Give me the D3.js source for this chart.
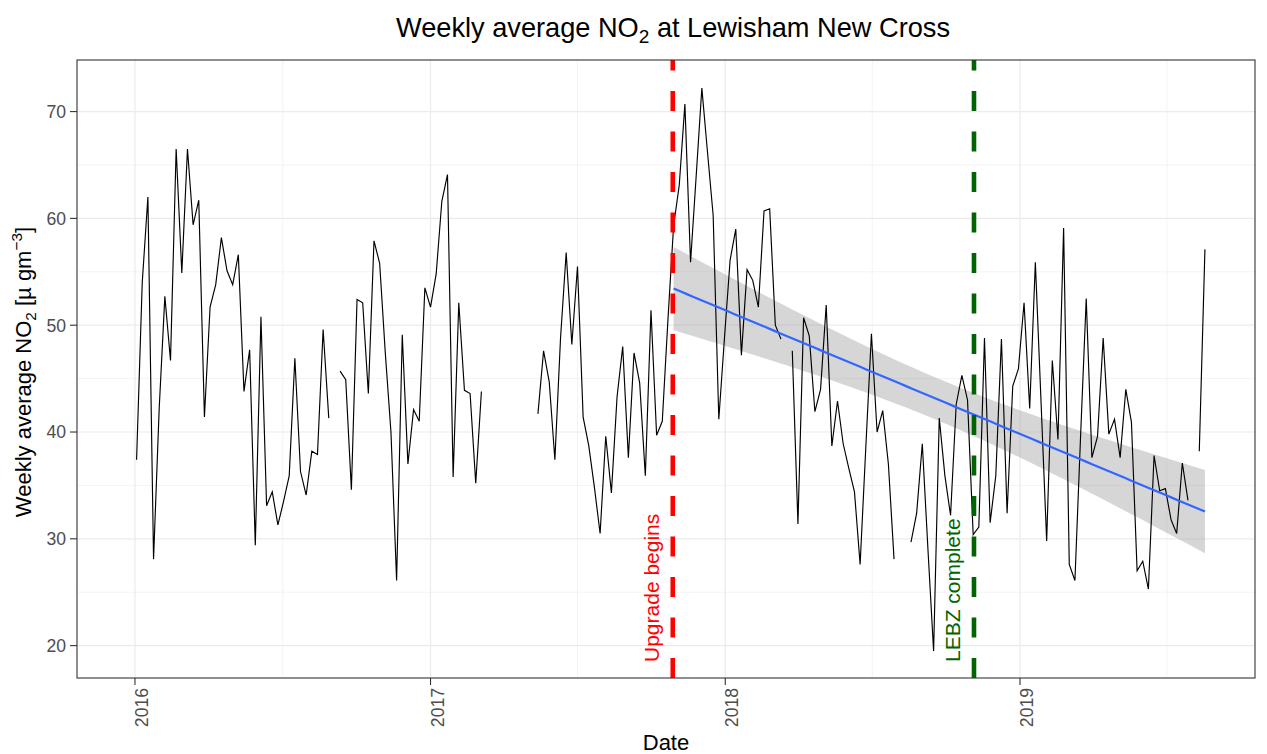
<!DOCTYPE html>
<html>
<head>
<meta charset="utf-8">
<script src="https://cdn.jsdelivr.net/npm/d3@7/dist/d3.min.js"></script>
<style>
  body { margin: 0; background: #fff; }
  text { font-family: "Liberation Sans", Arial, sans-serif; }
</style>
</head>
<body>
<div id="chart"></div>
<script>
// weekly average NO2, one value per week starting at firstWeek (null = no data)
var firstWeek = "2016-01-03";
var no2_2016 = [37.4, 54.0, 62.0, 28.1, 42.2, 52.7, 46.7, 66.5, 54.9, 66.5,
  59.4, 61.7, 41.4, 51.7, 53.8, 58.2, 55.1, 53.8, 56.6, 43.8,
  47.7, 29.4, 50.8, 33.1, 34.4, 31.3, 33.5, 35.9, 46.9, 36.3,
  34.1, 38.2, 37.9, 49.6, 41.3, null, 45.7, 44.9, 34.6, 52.4,
  52.1, 43.6, 57.9, 55.8, 47.4, 40.0, 26.1, 49.1, 37.0, 42.1,
  41.0, 53.5];
var no2_2017 = [51.7, 54.8, 61.6, 64.1, 35.8, 52.1, 43.9, 43.6, 35.2, 43.8,
  null, null, null, null, null, null, null, null, null,
  41.7, 47.6, 44.7, 37.4, 48.8, 56.8, 48.2, 55.5, 41.4, 38.7,
  34.8, 30.5, 39.6, 34.3, 43.3, 48.0, 37.6, 47.4, 44.6, 35.9,
  51.4, 39.7, 41.0, 50.5, 59.3, 63.1, 70.7, 55.9, 64.0, 72.2,
  66.2, 60.3, 41.2, 48.8];
var no2_2018 = [56.1, 59.0, 47.2, 55.2, 54.2, 51.7, 60.7, 60.9, 50.0, 48.7,
  null, 47.6, 31.4, 50.7, 49.0, 41.9, 44.0, 51.9, 38.7, 42.9,
  38.9, 36.6, 34.4, 27.6, 38.5, 49.2, 40.0, 42.0, 37.0, 28.1,
  null, null, 29.7, 32.4, 38.9, 29.0, 19.5, 41.3, 35.9, 32.2,
  42.6, 45.3, 43.0, 30.4, 31.1, 48.8, 31.5, 35.9, 48.7, 32.4,
  44.3, 45.9];
var no2_2019 = [52.1, 42.2, 55.9, 42.9, 29.8, 46.7, 39.3, 59.1, 27.6, 26.1,
  39.6, 52.5, 37.6, 39.6, 48.8, 39.8, 41.2, 37.6, 44.0, 40.9,
  27.0, 27.9, 25.3, 37.8, 34.5, 34.7, 31.8, 30.5, 37.1, 33.6,
  null, 38.2, 57.1];

var eventDates = ["2017-10-28", "2018-11-05"];
var eventLabels = ["Upgrade begins", "LEBZ complete"];
var yTicks = [20, 30, 40, 50, 60, 70];
var yMinorTicks = [25, 35, 45, 55, 65];
var xTickYears = [2016, 2017, 2018, 2019];

// styles
var eventColors = ["#FF0000", "#006400"];
var gridColor = "#EBEBEB";

var width = 1267, height = 754;
var panel = {left: 77, right: 1255, top: 60, bottom: 678};

var parse = d3.utcParse("%Y-%m-%d");
var start = parse(firstWeek);
var values = no2_2016.concat(no2_2017, no2_2018, no2_2019);
var data = values.map(function(v, i) {
  return {date: d3.utcDay.offset(start, 7 * i), v: v};
});

var svg = d3.select("#chart").append("svg")
  .attr("width", width)
  .attr("height", height);

var x = d3.scaleUtc()
  .domain([new Date(Date.UTC(2015, 9, 21, 5)), new Date(Date.UTC(2019, 9, 19))])
  .range([panel.left, panel.right]);
var y = d3.scaleLinear()
  .domain([16.97, 74.83])
  .range([panel.bottom, panel.top]);

var yearDates = xTickYears.map(function(yr) { return new Date(Date.UTC(yr, 0, 1)); });
var midDates = xTickYears.map(function(yr) { return new Date(Date.UTC(yr, 6, 2)); });

// grid
var grid = svg.append("g");
grid.selectAll(".ymin").data(yMinorTicks).enter().append("line")
  .attr("x1", panel.left).attr("x2", panel.right)
  .attr("y1", d => y(d)).attr("y2", d => y(d))
  .style("stroke", gridColor).style("stroke-width", 0.6);
grid.selectAll(".xmin").data(midDates).enter().append("line")
  .attr("y1", panel.top).attr("y2", panel.bottom)
  .attr("x1", d => x(d)).attr("x2", d => x(d))
  .style("stroke", gridColor).style("stroke-width", 0.6);
grid.selectAll(".ymaj").data(yTicks).enter().append("line")
  .attr("x1", panel.left).attr("x2", panel.right)
  .attr("y1", d => y(d)).attr("y2", d => y(d))
  .style("stroke", gridColor).style("stroke-width", 1.2);
grid.selectAll(".xmaj").data(yearDates).enter().append("line")
  .attr("y1", panel.top).attr("y2", panel.bottom)
  .attr("x1", d => x(d)).attr("x2", d => x(d))
  .style("stroke", gridColor).style("stroke-width", 1.2);

// linear fit after the upgrade starts
var t0 = parse(eventDates[0]);
var fitPts = data.filter(d => d.v != null && d.date >= t0)
  .map(d => ({t: (d.date - start) / 864e5, v: d.v, date: d.date}));
var n = fitPts.length;
var tbar = d3.mean(fitPts, d => d.t), vbar = d3.mean(fitPts, d => d.v);
var sxx = d3.sum(fitPts, d => (d.t - tbar) * (d.t - tbar));
var sxy = d3.sum(fitPts, d => (d.t - tbar) * (d.v - vbar));
var slope = sxy / sxx, icpt = vbar - slope * tbar;
var rss = d3.sum(fitPts, d => Math.pow(d.v - (icpt + slope * d.t), 2));
var s = Math.sqrt(rss / (n - 2));
var tq = 1.99;
var tFirst = fitPts[0].t, tLast = fitPts[n - 1].t;
var band = d3.range(0, 81).map(function(i) {
  var t = tFirst + (tLast - tFirst) * i / 80;
  var f = icpt + slope * t;
  var se = s * Math.sqrt(1 / n + (t - tbar) * (t - tbar) / sxx);
  return {date: start.getTime() + t * 864e5, f: f, lo: f - tq * se, hi: f + tq * se};
});

svg.append("path")
  .datum(band)
  .attr("d", d3.area().x(d => x(d.date)).y0(d => y(d.lo)).y1(d => y(d.hi)))
  .style("fill", "#999999")
  .style("opacity", 0.4);

// weekly series
svg.append("path")
  .datum(data)
  .attr("d", d3.line().defined(d => d.v != null).x(d => x(d.date)).y(d => y(d.v)))
  .style("fill", "none")
  .style("stroke", "#000")
  .style("stroke-width", 1.15);

svg.append("path")
  .datum(band)
  .attr("d", d3.line().x(d => x(d.date)).y(d => y(d.f)))
  .style("fill", "none")
  .style("stroke", "#3366FF")
  .style("stroke-width", 2.2);

// event lines + labels
eventDates.forEach(function(ds, i) {
  var ex = x(parse(ds));
  svg.append("line")
    .attr("x1", ex).attr("x2", ex)
    .attr("y1", panel.bottom).attr("y2", panel.top)
    .style("stroke", eventColors[i])
    .style("stroke-width", 4.6)
    .style("stroke-dasharray", "20,20.5");
  svg.append("text")
    .attr("transform", "translate(" + (ex - 14) + "," + (panel.bottom - 16) + ") rotate(-90)")
    .style("fill", eventColors[i])
    .style("font-size", "21px")
    .text(eventLabels[i]);
});

// panel border
svg.append("rect")
  .attr("x", panel.left).attr("y", panel.top)
  .attr("width", panel.right - panel.left).attr("height", panel.bottom - panel.top)
  .style("fill", "none").style("stroke", "#333333").style("stroke-width", 1.1);

// y axis
var yAx = svg.append("g");
yAx.selectAll("line").data(yTicks).enter().append("line")
  .attr("x1", panel.left - 7).attr("x2", panel.left)
  .attr("y1", d => y(d)).attr("y2", d => y(d))
  .style("stroke", "#333333").style("stroke-width", 1.1);
yAx.selectAll("text").data(yTicks).enter().append("text")
  .attr("x", panel.left - 11).attr("y", d => y(d) + 6.3)
  .attr("text-anchor", "end")
  .style("font-size", "17.6px").style("fill", "#4D4D4D")
  .text(d => d);

// x axis
var xAx = svg.append("g");
xAx.selectAll("line").data(yearDates).enter().append("line")
  .attr("x1", d => x(d)).attr("x2", d => x(d))
  .attr("y1", panel.bottom).attr("y2", panel.bottom + 7)
  .style("stroke", "#333333").style("stroke-width", 1.1);
xAx.selectAll("text").data(xTickYears).enter().append("text")
  .attr("transform", (d, i) => "translate(" + (x(yearDates[i]) + 13) + "," + (panel.bottom + 10) + ") rotate(-90)")
  .attr("text-anchor", "end")
  .style("font-size", "17.6px").style("fill", "#4D4D4D")
  .text(d => d);

svg.append("text")
  .attr("x", (panel.left + panel.right) / 2).attr("y", 750)
  .attr("text-anchor", "middle")
  .style("font-size", "22px").style("fill", "#000")
  .text("Date");

// y title
var yt = svg.append("text")
  .attr("transform", "translate(31," + ((panel.top + panel.bottom) / 2 + 3) + ") rotate(-90)")
  .attr("text-anchor", "middle")
  .style("font-size", "22px").style("fill", "#000");
yt.append("tspan").text("Weekly average NO");
yt.append("tspan").attr("dy", 5).style("font-size", "15.4px").text("2");
yt.append("tspan").attr("dy", -5).text(" [\u00B5 gm");
yt.append("tspan").attr("dy", -9).style("font-size", "15.4px").text("\u22123");
yt.append("tspan").attr("dy", 9).text("]");

// title
var tt = svg.append("text")
  .attr("x", 673).attr("y", 37)
  .attr("text-anchor", "middle")
  .style("font-size", "27.2px").style("fill", "#000");
tt.append("tspan").text("Weekly average NO");
tt.append("tspan").attr("dy", 6).style("font-size", "19px").text("2");
tt.append("tspan").attr("dy", -6).text(" at Lewisham New Cross");
</script>
</body>
</html>
